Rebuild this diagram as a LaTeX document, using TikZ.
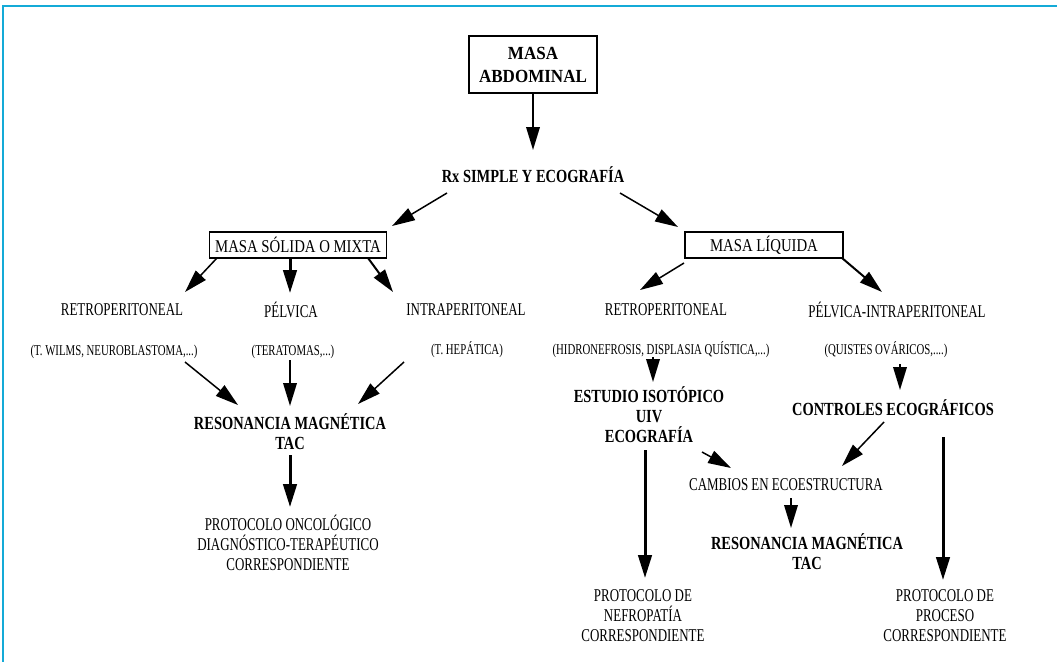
\documentclass[tikz,border=0pt]{standalone}
\usepackage{fontspec}
\setmainfont{Liberation Serif}
\newfontfamily\nrw{Liberation Serif}[FakeStretch=0.72]
\newfontfamily\nrwbox{Liberation Serif}[FakeStretch=0.82]
\newfontfamily\bld{Liberation Serif}[FakeStretch=0.78]
\newfontfamily\bldw{Liberation Serif}[FakeStretch=0.92]
\usetikzlibrary{arrows.meta}
\definecolor{framecyan}{RGB}{20,170,215}
\tikzset{
  lbl/.style={inner sep=0pt, align=center, font=\nrw\fontsize{18}{20}\selectfont},
  sml/.style={inner sep=0pt, font=\nrw\fontsize{15}{18}\selectfont},
  bldlbl/.style={inner sep=0pt, align=center, font=\bld\bfseries\fontsize{18.5}{20}\selectfont},
  boxlbl/.style={draw, line width=1.2pt, inner sep=0pt, minimum height=26pt, font=\nrwbox\fontsize{18}{20}\selectfont},
  arr/.style={-{Triangle[length=23pt,width=13.5pt]}, line width=1.5pt},
  thk/.style={arr, line width=3pt},
  framestroke/.style={draw=framecyan, line width=2pt}
}
\begin{document}
\begin{tikzpicture}[x=1pt,y=-1pt]
\useasboundingbox (0,0) rectangle (1057,662);
% frame edges
\draw[framestroke] (2,6) -- (1057,6);
\draw[framestroke] (3,6) -- (3,662);

% top
\node[draw, line width=1.4pt, minimum width=128pt, minimum height=57pt, align=center,
      font=\bldw\bfseries\fontsize{18.5}{23}\selectfont] (abd) at (533,64.5) {MASA\\ABDOMINAL};
\node[bldlbl] (rx) at (533,175) {Rx SIMPLE Y ECOGRAFÍA};

% second level
\node[boxlbl, minimum width=177pt] (solida) at (298,245) {MASA SÓLIDA O MIXTA};
\node[boxlbl, minimum width=158pt] (liquida) at (764,245) {MASA LÍQUIDA};

% third level
\node[lbl] (retroL) at (122,310) {RETROPERITONEAL};
\node[lbl] (pelv) at (291,310) {PÉLVICA};
\node[lbl] (intra) at (466,310) {INTRAPERITONEAL};
\node[lbl] (retroR) at (666,310) {RETROPERITONEAL};
\node[lbl] (pelvint) at (897,310) {PÉLVICA-INTRAPERITONEAL};

% examples
\node[sml] (wilms) at (114,352) {(T. WILMS, NEUROBLASTOMA,...)};
\node[sml] (terat) at (293,352) {(TERATOMAS,...)};
\node[sml] (hepat) at (467,350) {(T. HEPÁTICA)};
\node[sml] (hidro) at (661,350) {(HIDRONEFROSIS, DISPLASIA QUÍSTICA,...)};
\node[sml] (quistes) at (886,350) {(QUISTES OVÁRICOS,....)};

% studies
\node[bldlbl] (reson1) at (290,432) {RESONANCIA MAGNÉTICA\\TAC};
\node[lbl] (protonc) at (288,543) {PROTOCOLO ONCOLÓGICO\\DIAGNÓSTICO-TERAPÉUTICO\\CORRESPONDIENTE};
\node[bldlbl] (estudio) at (649,415) {ESTUDIO ISOTÓPICO\\UIV\\ECOGRAFÍA};
\node[bldlbl] (controles) at (893,408) {CONTROLES ECOGRÁFICOS};
\node[lbl] (cambios) at (786,485) {CAMBIOS EN ECOESTRUCTURA};
\node[bldlbl] (reson2) at (807,552) {RESONANCIA MAGNÉTICA\\TAC};
\node[lbl] (protnef) at (643,616) {PROTOCOLO DE\\NEFROPATÍA\\CORRESPONDIENTE};
\node[lbl] (protproc) at (945,616) {PROTOCOLO DE\\PROCESO\\CORRESPONDIENTE};

% connectors
\draw[arr, line width=2pt] (abd.south) -- ([shift={(0,-25)}]rx.center);
\draw[arr] ([shift={(-86,18)}]rx.center) -- ([shift={(94,-19)}]solida.center);
\draw[arr] ([shift={(87,18)}]rx.center) -- ([shift={(-86,-18)}]liquida.center);

\draw[arr] ([shift={(-81,13)}]solida.center) -- ([shift={(63,-18)}]retroL.center);
\draw[thk] ([shift={(-8,13)}]solida.center) -- ([shift={(-1,-17)}]pelv.center);
\draw[arr, line width=2pt] ([shift={(70,13)}]solida.center) -- ([shift={(-73,-18)}]intra.center);
\draw[arr] ([shift={(-80,18)}]liquida.center) -- ([shift={(-26,-20)}]retroR.center);
\draw[arr, line width=2pt] ([shift={(78,13)}]liquida.center) -- ([shift={(-15,-18)}]pelvint.center);

\draw[arr] ([shift={(71,10)}]wilms.center) -- ([shift={(-52,-27)}]reson1.center);
\draw[arr, line width=2pt] ([shift={(-3,8)}]terat.center) -- ([shift={(0,-26)}]reson1.center);
\draw[arr] ([shift={(-63,12)}]hepat.center) -- ([shift={(68,-28)}]reson1.center);
\draw[thk] ([shift={(0,23)}]reson1.center) -- ([shift={(2,-36)}]protonc.center);

\draw[arr, line width=2pt] ([shift={(-8,7)}]hidro.center) -- ([shift={(4,-33)}]estudio.center);
\draw[arr, line width=2pt] ([shift={(14,14)}]quistes.center) -- ([shift={(7,-18)}]controles.center);
\draw[arr] ([shift={(-9,14)}]controles.center) -- ([shift={(56,-19)}]cambios.center);
\draw[arr] ([shift={(53,37)}]estudio.center) -- ([shift={(-55,-17)}]cambios.center);
\draw[arr, line width=2pt] ([shift={(5,13)}]cambios.center) -- ([shift={(-16,-24)}]reson2.center);
\draw[thk] ([shift={(-4,35)}]estudio.center) -- ([shift={(2,-38)}]protnef.center);
\draw[thk] ([shift={(50,29)}]controles.center) -- ([shift={(-2,-36)}]protproc.center);
\end{tikzpicture}
\end{document}
